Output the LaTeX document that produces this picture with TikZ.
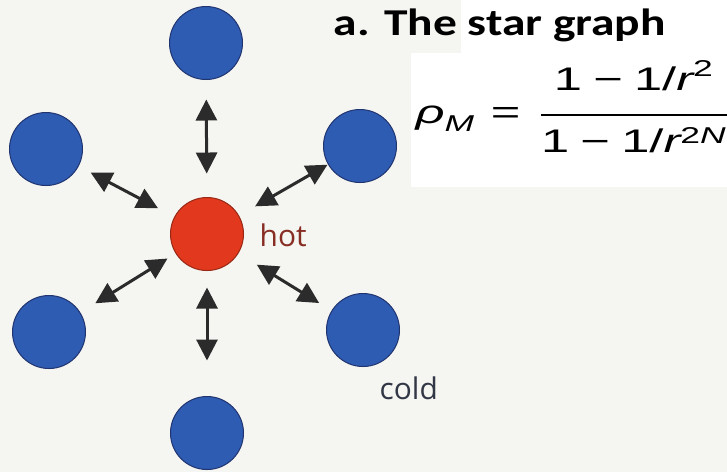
\documentclass[tikz,border=0pt]{standalone}
\usepackage{amsmath}
\usepackage{graphicx}
\usepackage{fontspec}
\usetikzlibrary{arrows.meta}
\setmainfont{Open Sans}
\newfontfamily\titlefont{Carlito}
\newfontfamily\formfont{Liberation Sans}
\newcommand{\smup}[1]{\text{\formfont\upshape #1}}
\newcommand{\smit}[1]{\text{\formfont\itshape #1}}
\definecolor{paper}{RGB}{245,245,241}
\definecolor{coldblue}{RGB}{46,92,178}
\definecolor{coldedge}{RGB}{32,52,112}
\definecolor{hotred}{RGB}{226,56,30}
\definecolor{hotedge}{RGB}{150,40,20}
\definecolor{hottext}{RGB}{135,45,35}
\definecolor{coldtext}{RGB}{50,55,70}
\definecolor{arrowgray}{RGB}{43,43,43}

\begin{document}
\begin{tikzpicture}[x=0.1mm,y=-0.1mm,>={Triangle[length=2.1mm,width=2.1mm]},line cap=round,
  cold/.style={circle,fill=coldblue,draw=coldedge,line width=0.1mm,minimum size=7.3mm,inner sep=0pt,outer sep=0pt},
  hot/.style={cold,fill=hotred,draw=hotedge},
  link/.style={<->,arrowgray,line width=0.3mm,shorten <=1.8mm,shorten >=1.8mm},
  tag/.style={inner sep=0pt,font=\fontsize{8.5}{10}\selectfont}]
\useasboundingbox (0,0) rectangle (727,472);
\fill[paper] (0,0) rectangle (727,472);
\fill[white] (461,0) rectangle (727,53);
\fill[white] (411,53) rectangle (727,187);
\node[hot] (hub) at (207,234) {};
\node[cold] (top) at (206,43) {};
\node[cold] (ul) at (46,149) {};
\node[cold] (ur) at (360,146) {};
\node[cold] (ll) at (49,332) {};
\node[cold] (lr) at (363,330) {};
\node[cold] (bot) at (207,433) {};
\draw[link,shorten <=2.4mm,shorten >=2mm] (hub) -- (top);
\draw[link,shorten <=1.9mm,shorten >=1.4mm] (hub) -- (ul);
\draw[link,shorten <=1.9mm,shorten >=0.1mm] (hub) -- (ur);
\draw[link,shorten <=1mm,shorten >=1.8mm] (hub) -- (ll);
\draw[link,shorten <=2.2mm,shorten >=1.5mm] (hub) -- (lr);
\draw[link,shorten <=1.7mm,shorten >=3.6mm] (hub) -- (bot);
\node[tag,text=hottext,anchor=base west] (hotlbl) at (259,246) {hot};
\node[tag,text=coldtext,anchor=base west] (coldlbl) at (379,399) {cold};
\node[anchor=base west,inner sep=0pt] (title) at (333,35)
  {\titlefont\bfseries\fontsize{10.8}{12}\selectfont\scalebox{1.25}[1]{a. The star graph}};
\node[anchor=base west,inner sep=0pt] (rho) at (415,123)
  {\fontsize{9.3}{11}\selectfont\scalebox{1.55}[1]{$\smit{ρ}_{\smit{M}} \mathrel{\smup{=}}
   \dfrac{\smup{1} \mathbin{\smup{−}} \smup{1/}\smit{r}^{\smup{2}}\rule[-2mm]{0pt}{1mm}}{\rule{0pt}{3.3mm}\smup{1} \mathbin{\smup{−}} \smup{1/}\smit{r}^{\smup{2}\smit{N}}}$}};
\end{tikzpicture}
\end{document}
